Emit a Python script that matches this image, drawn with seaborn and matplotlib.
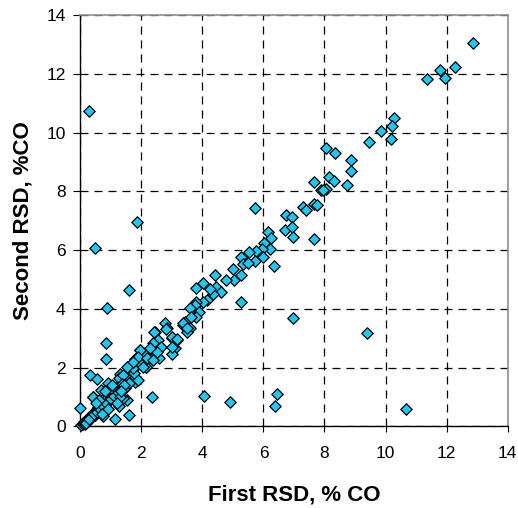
import matplotlib
matplotlib.use("Agg")
import matplotlib.pyplot as plt
import seaborn as sns
import pandas as pd

# First RSD vs second RSD (% CO)
first_rsd = [
    12.86, 11.36, 11.79, 11.96, 12.28, 0.30, 10.27, 10.22, 9.84, 10.18,
    9.46, 8.04, 8.34, 8.87, 8.87, 8.15, 8.30, 8.73, 7.66, 7.88,
    8.04, 7.96, 7.28, 7.41, 7.64, 7.77, 5.71, 1.85, 0.49, 6.74,
    6.93, 6.72, 6.93, 6.98, 7.66, 6.14, 6.25, 6.03, 6.20, 5.96,
    6.00, 5.76, 5.54, 5.72, 6.36, 5.27, 5.33, 5.49, 5.00, 5.05,
    4.78, 5.27, 4.42, 4.46, 4.62, 4.35, 4.02, 3.80, 4.24, 4.16,
    4.02, 3.80, 3.75, 3.89, 3.59, 3.80, 3.43, 3.37, 3.59, 3.48,
    5.27, 6.98, 9.40, 1.61, 0.87, 2.77, 2.83, 2.45, 2.50, 2.99,
    3.17, 2.61, 3.10, 2.99, 2.28, 2.12, 1.96, 1.90, 1.79, 2.01,
    2.17, 2.34, 2.59, 2.15, 1.85, 1.66, 1.58, 1.74, 1.41, 1.30,
    1.79, 1.90, 0.85, 0.85, 0.33, 0.54, 2.34, 4.05, 4.92, 6.43,
    6.39, 10.68, 1.61, 1.14, 1.27, 1.52, 0.00, 0.43, 0.76, 0.90,
    0.67, 1.26, 1.49, 0.93, 1.39, 0.41, 1.46, 1.17, 1.59, 1.75,
    2.14, 1.91, 1.72, 2.82, 2.43, 3.02, 3.18, 2.53, 2.37, 2.66,
    3.02, 2.50, 2.27, 1.94, 1.88, 2.17, 2.37, 1.72, 1.52, 2.04,
    1.39, 3.35, 3.51, 3.64,
    0.03, 0.08, 0.12, 0.18, 0.22, 0.27, 0.31, 0.36, 0.40, 0.45,
    0.50, 0.55, 0.58, 0.63, 0.68, 0.72, 0.78, 0.82, 0.88, 0.93,
    0.98, 1.03, 1.08, 1.12, 1.18, 1.22, 1.28, 1.33, 1.38, 1.43,
    0.15, 0.25, 0.35, 0.48, 0.60, 0.70, 0.80, 0.95, 1.05, 1.15,
    0.20, 0.30, 0.45, 0.55, 0.65, 0.75, 0.85, 1.00, 1.10, 1.25,
    0.62, 0.90, 1.00, 1.30, 0.80, 1.20, 0.52, 0.70, 1.05, 1.35,
]
second_rsd = [
    13.05, 11.82, 12.14, 11.87, 12.23, 10.75, 10.50, 10.24, 10.04, 9.79,
    9.69, 9.48, 9.32, 9.07, 8.71, 8.49, 8.36, 8.21, 8.31, 8.04,
    8.08, 8.03, 7.46, 7.36, 7.56, 7.54, 7.45, 6.94, 6.06, 7.19,
    7.13, 6.68, 6.79, 6.45, 6.38, 6.60, 6.42, 6.23, 6.03, 6.02,
    5.77, 5.97, 5.92, 5.62, 5.46, 5.77, 5.54, 5.56, 5.35, 4.97,
    4.97, 5.14, 5.14, 4.75, 4.58, 4.52, 4.89, 4.72, 4.66, 4.29,
    4.24, 4.24, 4.12, 3.89, 4.01, 3.72, 3.55, 3.44, 3.33, 3.21,
    4.24, 3.67, 3.17, 4.63, 4.03, 3.53, 3.33, 3.21, 2.93, 3.01,
    2.95, 2.70, 2.65, 2.45, 2.53, 2.48, 2.59, 2.36, 2.30, 2.19,
    2.30, 2.30, 2.34, 2.02, 2.08, 1.96, 1.85, 1.74, 1.68, 1.79,
    1.51, 1.57, 2.82, 2.30, 1.74, 1.62, 1.00, 1.02, 0.83, 1.11,
    0.68, 0.57, 0.37, 0.23, 0.68, 0.89, 0.62, 0.98, 0.34, 1.46,
    1.23, 1.63, 1.74, 1.12, 0.95, 0.99, 1.29, 1.29, 1.46, 1.81,
    2.01, 2.18, 1.98, 3.30, 3.20, 3.03, 2.96, 2.93, 2.83, 2.69,
    2.69, 2.52, 2.66, 2.59, 2.35, 2.32, 2.25, 2.18, 2.01, 2.01,
    1.74, 3.51, 3.34, 3.71,
    0.05, 0.06, 0.14, 0.15, 0.25, 0.22, 0.33, 0.32, 0.44, 0.42,
    0.55, 0.50, 0.64, 0.60, 0.74, 0.70, 0.85, 0.78, 0.95, 0.90,
    1.05, 1.00, 1.15, 1.10, 1.26, 1.20, 1.35, 1.30, 1.45, 1.40,
    0.08, 0.20, 0.28, 0.38, 0.52, 0.62, 0.72, 0.88, 0.98, 1.08,
    0.12, 0.24, 0.40, 0.48, 0.58, 0.68, 0.80, 0.92, 1.02, 1.18,
    0.90, 0.60, 1.30, 1.00, 1.20, 0.80, 0.80, 0.40, 1.40, 1.20,
]

df = pd.DataFrame({"first": first_rsd, "second": second_rsd})

sns.set_style("white")
plt.rcParams["font.family"] = ["Liberation Sans", "DejaVu Sans"]
plt.rcParams["text.color"] = "black"
plt.rcParams["axes.labelcolor"] = "black"
plt.rcParams["xtick.color"] = "black"
plt.rcParams["ytick.color"] = "black"

fig = plt.figure(figsize=(5.18, 5.08), dpi=100)
ax = fig.add_axes([0.155, 0.161, 0.825, 0.809])

sns.scatterplot(data=df, x="first", y="second", marker="D", s=34,
                color="#1EC8F2", edgecolor="black", linewidth=0.9, ax=ax,
                zorder=3, clip_on=False)

ax.set_xlim(0, 14)
ax.set_ylim(0, 14)
ax.set_xticks(range(0, 15, 2))
ax.set_yticks(range(0, 15, 2))
ax.grid(True, color="black", linestyle=(0, (6.4, 4.8)), linewidth=0.9)
ax.set_axisbelow(True)

for side in ["top", "right"]:
    ax.spines[side].set_color("#909090")
    ax.spines[side].set_linewidth(1.2)
for side in ["left", "bottom"]:
    ax.spines[side].set_color("black")
    ax.spines[side].set_linewidth(1.0)

ax.tick_params(axis="x", direction="out", length=4.5, width=0.8,
               labelsize=12.5, pad=9.5, bottom=True)
ax.tick_params(axis="y", direction="out", length=5, width=0.8,
               labelsize=12.5, pad=5.5, left=True)

ax.set_xlabel("First RSD, % CO", fontsize=16, fontweight="bold")
ax.set_ylabel("Second RSD, %CO", fontsize=16, fontweight="bold")
ax.xaxis.set_label_coords(0.5, -0.143)
ax.yaxis.set_label_coords(-0.109, 0.5)

fig.savefig("out.png", dpi=100)
